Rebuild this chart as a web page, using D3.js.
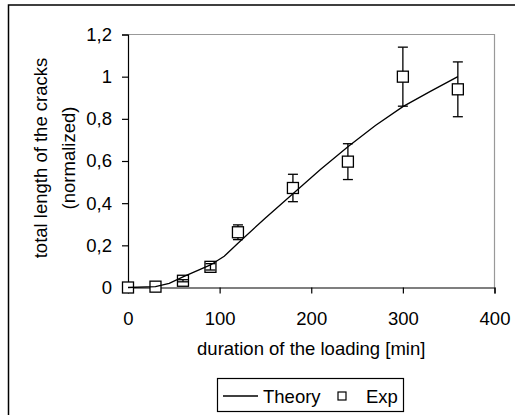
<!DOCTYPE html>
<html>
<head>
<meta charset="utf-8">
<script src="https://cdn.jsdelivr.net/npm/d3@7"></script>
<style>
body { margin: 0; background: #fff; }
text { font-family: "Liberation Sans", Arial, sans-serif; fill: #000; }
</style>
</head>
<body>
<div id="chart"></div>
<script>
// theory curve
var theoryX = [0, 30, 45, 60, 90, 105, 120, 150, 180, 210, 240, 270, 300, 330, 360]
var theoryY = [0, 0.004, 0.02, 0.05, 0.107, 0.148, 0.21, 0.33, 0.445, 0.56, 0.668, 0.768, 0.858, 0.93, 1.0]

// experiment points + error
var expX = [0, 30, 60, 90, 120, 180, 240, 300, 360]
var expY = [0, 0.004, 0.032, 0.098, 0.262, 0.472, 0.597, 1.0, 0.94]
var expErr = [0, 0, 0.005, 0.015, 0.035, 0.065, 0.085, 0.14, 0.13]

var xTicks = [0, 100, 200, 300, 400]
var yTicks = [0, 0.2, 0.4, 0.6, 0.8, 1, 1.2]

var w = 515, h = 415
var fs = 18.5

var svg = d3.select("#chart")
	.append("svg")
	.attr("width", w)
	.attr("height", h)

// outer frame
svg.append("rect")
	.attr("x", 8.5).attr("y", 5)
	.attr("width", 530).attr("height", 430)
	.attr("fill", "none")
	.attr("stroke", "#000")
	.attr("stroke-width", 1.5)

var x = d3.scaleLinear().domain([0, 400]).range([128, 494.5])
var y = d3.scaleLinear().domain([0, 1.2]).range([287.5, 34.5])

// plot area border (grey top/right)
svg.append("path")
	.attr("d", "M" + x(0) + "," + y(1.2) + "H" + x(400) + "V" + y(0))
	.attr("fill", "none")
	.attr("stroke", "#999")
	.attr("stroke-width", 1.2)

var fmt = function(d) { return String(d).replace(".", ",") }

var xAxis = svg.append("g")
	.attr("transform", "translate(0," + y(0) + ")")
	.call(d3.axisBottom(x).tickValues(xTicks).tickSize(6).tickPadding(18).tickFormat(fmt))
var yAxis = svg.append("g")
	.attr("transform", "translate(" + x(0) + ",0)")
	.call(d3.axisLeft(y).tickValues(yTicks).tickSize(6).tickPadding(10).tickFormat(fmt))

;[xAxis, yAxis].forEach(function(g) {
	g.select(".domain").attr("stroke", "#000").attr("stroke-width", 1.2)
	g.selectAll(".tick line").attr("stroke", "#000").attr("stroke-width", 1.2)
	g.selectAll(".tick text")
		.style("font-family", "'Liberation Sans', Arial, sans-serif")
		.style("font-size", fs + "px")
		.attr("fill", "#000")
})
xAxis.select(".tick line").remove() // no tick at 0

// axis titles
svg.append("text")
	.attr("x", x(200)).attr("y", 355)
	.attr("text-anchor", "middle")
	.style("font-size", fs + "px")
	.text("duration of the loading [min]")

var yt = svg.append("text")
	.attr("transform", "translate(0,158) rotate(-90)")
	.attr("text-anchor", "middle")
	.style("font-size", fs + "px")
yt.append("tspan").attr("x", 0).attr("y", 47).text("total length of the cracks")
yt.append("tspan").attr("x", 0).attr("y", 75).text("(normalized)")

// squares
var sq = 11
var half = sq / 2
svg.append("g").selectAll("rect")
	.data(expX)
	.enter()
	.append("rect")
	.attr("x", function(d) { return x(d) - half })
	.attr("y", function(d, i) { return y(expY[i]) - half })
	.attr("width", sq).attr("height", sq)
	.attr("fill", "#fff")
	.attr("stroke", "#000")
	.attr("stroke-width", 1.3)

// error bars drawn from marker edge outward
var eg = svg.append("g").attr("stroke", "#000").attr("stroke-width", 1.3)
expX.forEach(function(d, i) {
	if (!expErr[i]) return
	var cx = x(d), cy = y(expY[i])
	var top = y(expY[i] + expErr[i]), bot = y(expY[i] - expErr[i])
	var dp = cy - top
	if (dp > half) {
		eg.append("line").attr("x1", cx).attr("x2", cx).attr("y1", top).attr("y2", cy - half)
		eg.append("line").attr("x1", cx).attr("x2", cx).attr("y1", cy + half).attr("y2", bot)
	} else {
		eg.append("line").attr("x1", cx).attr("x2", cx).attr("y1", top).attr("y2", bot)
	}
	;[top, bot].forEach(function(yy) {
		eg.append("line").attr("x1", cx - 5).attr("x2", cx + 5).attr("y1", yy).attr("y2", yy)
	})
})

// theory line
var line = d3.line()
	.x(function(d) { return x(d) })
	.y(function(d, i) { return y(theoryY[i]) })
svg.append("path")
	.attr("d", line(theoryX))
	.attr("fill", "none")
	.attr("stroke", "#000")
	.attr("stroke-width", 1.3)

// legend
var lg = svg.append("g")
lg.append("rect")
	.attr("x", 217.5).attr("y", 378.5)
	.attr("width", 186).attr("height", 33)
	.attr("fill", "#fff").attr("stroke", "#000").attr("stroke-width", 1.2)
lg.append("line")
	.attr("x1", 223).attr("x2", 258).attr("y1", 396).attr("y2", 396)
	.attr("stroke", "#000").attr("stroke-width", 1.3)
lg.append("text").attr("x", 263).attr("y", 402.5)
	.style("font-size", fs + "px").text("Theory")
lg.append("rect")
	.attr("x", 338).attr("y", 392).attr("width", 8).attr("height", 8)
	.attr("fill", "#fff").attr("stroke", "#000").attr("stroke-width", 1.2)
lg.append("text").attr("x", 366).attr("y", 402.5)
	.style("font-size", fs + "px").text("Exp")
</script>
</body>
</html>
